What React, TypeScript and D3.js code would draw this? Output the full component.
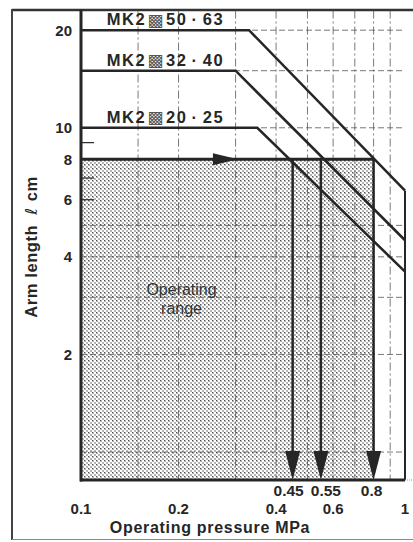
import React from "react";
import * as d3 from "d3";

// ---- data ----
const seriesModel = ["MK2", "MK2", "MK2"];
const seriesBoreA = ["50", "32", "20"];
const seriesBoreB = ["63", "40", "25"];
const seriesPressure = [
  [0.1, 0.33, 1.0],
  [0.1, 0.3, 1.0],
  [0.1, 0.35, 1.0],
];
const seriesArm = [
  [20, 20, 6.4],
  [15, 15, 4.5],
  [10, 10, 3.6],
];
const rangeArm = 8; // operating range upper arm length (cm)
const rangePressureMax = 0.8;
const arrowPressures = [0.45, 0.55, 0.8];
const arrowLabels = ["0.45", "0.55", "0.8"];
const arrowLabelShift = [-4, 5, -2];
const horizArrowTip = 0.305;
const xTicks = [0.1, 0.2, 0.4, 0.6, 1];
const xTickLabels = ["0.1", "0.2", "0.4", "0.6", "1"];
const yTicks = [20, 10, 8, 6, 4, 2];
const yTickLabels = ["20", "10", "8", "6", "4", "2"];
const yMinorTicks = [9, 7, 6];
const xGrid = [0.15, 0.2, 0.3, 0.4, 0.5, 0.6, 0.7, 0.8, 0.9];
const yGrid = [1, 2, 3, 4, 5, 10, 15, 20];
const xDomain = [0.1, 1];
const yDomain = [0.82, 23];

const W = 413;
const H = 542;
const FONT = "'Liberation Sans', Arial, Helvetica, sans-serif";

export default function App() {
  const x = d3.scaleLog().domain(xDomain).range([81, 405]);
  const y = d3.scaleLog().domain(yDomain).range([480, 10.5]);
  const x0 = x(xDomain[0]);
  const x1 = x(xDomain[1]);
  const yTop = y(yDomain[1]);
  const yBot = y(yDomain[0]);
  const line = d3
    .line<[number, number]>()
    .x((d) => x(d[0]))
    .y((d) => y(d[1]));

  const ink = "#262626";

  return (
    <svg
      width={W}
      height={H}
      style={{ position: "absolute", left: 0, top: 0, background: "#fff" }}
      fontFamily={FONT}
    >
      <defs>
        <pattern id="hatch" patternUnits="userSpaceOnUse" width={4} height={4}>
          <rect x={0} y={0} width={4} height={4} fill="#ffffff" />
          <rect x={0} y={0} width={2} height={2} fill="#b4b4b4" />
          <rect x={2} y={2} width={2} height={2} fill="#b4b4b4" />
          <rect x={0} y={0} width={1} height={1} fill="#505050" />
        </pattern>
      </defs>

      {/* outer frame */}
      <line x1={12} y1={10} x2={W} y2={10} stroke="#333" strokeWidth={2.5} />
      <line x1={12} y1={9} x2={12} y2={540} stroke="#444" strokeWidth={2} />
      <line x1={12} y1={539.5} x2={W} y2={539.5} stroke="#888" strokeWidth={1.2} />

      {/* operating range */}
      <rect
        x={x0}
        y={y(rangeArm)}
        width={x(rangePressureMax) - x0}
        height={yBot - y(rangeArm)}
        fill="url(#hatch)"
      />

      {/* gridlines */}
      {xGrid.map((g) => (
        <line
          key={"xg" + g}
          x1={x(g)}
          x2={x(g)}
          y1={yTop}
          y2={yBot}
          stroke="#555"
          strokeWidth={0.8}
          strokeDasharray="8,3,2,3"
        />
      ))}
      {yGrid.map((g) => (
        <line
          key={"yg" + g}
          x1={x0}
          x2={x1}
          y1={y(g)}
          y2={y(g)}
          stroke="#555"
          strokeWidth={0.8}
          strokeDasharray="6,3"
        />
      ))}

      {/* "Operating range" label */}
      <text textAnchor="middle" fontSize={16} fill="#333">
        <tspan x={x(0.2) + 3} y={y(3.05)}>
          Operating
        </tspan>
        <tspan x={x(0.2) + 3} y={y(3.05) + 19}>
          range
        </tspan>
      </text>

      {/* series lines */}
      {seriesModel.map((m, i) => {
        const pts = seriesPressure[i].map(
          (p, j) => [p, seriesArm[i][j]] as [number, number]
        );
        return (
          <g key={"s" + i}>
            <path d={line(pts) || ""} fill="none" stroke={ink} strokeWidth={2.5} />
            <text
              x={x(0.12)}
              y={y(seriesArm[i][0]) - 5}
              fontSize={16.5}
              fontWeight="bold"
              fill={ink}
              letterSpacing={1.6}
            >
              {m}
              <tspan
                dx={1}
                dy={0.5}
                fontFamily="'DejaVu Sans'"
                fontSize={17}
                fontWeight="normal"
                fill="#555"
              >
                ▩
              </tspan>
              <tspan dx={1} dy={-0.5}>{seriesBoreA[i]}</tspan>
              <tspan dx={4}>·</tspan>
              <tspan dx={4}>{seriesBoreB[i]}</tspan>
            </text>
          </g>
        );
      })}

      {/* range top line with arrow */}
      <line
        x1={x0}
        x2={x(rangePressureMax)}
        y1={y(rangeArm)}
        y2={y(rangeArm)}
        stroke={ink}
        strokeWidth={3}
      />
      <path
        d={`M${x(horizArrowTip)},${y(rangeArm)} L${x(horizArrowTip) - 25},${
          y(rangeArm) - 6
        } L${x(horizArrowTip) - 25},${y(rangeArm) + 6} Z`}
        fill={ink}
      />

      {/* vertical arrows */}
      {arrowPressures.map((p) => (
        <g key={"arr" + p}>
          <line
            x1={x(p)}
            x2={x(p)}
            y1={y(rangeArm)}
            y2={yBot - 20}
            stroke={ink}
            strokeWidth={2.5}
          />
          <path
            d={`M${x(p)},${yBot} L${x(p) - 7.5},${yBot - 29} L${x(p) + 7.5},${
              yBot - 29
            } Z`}
            fill={ink}
          />
        </g>
      ))}

      {/* right boundary */}
      <line
        x1={x1}
        x2={x1}
        y1={y(seriesArm[0][2])}
        y2={yBot}
        stroke={ink}
        strokeWidth={2}
      />

      {/* axes */}
      <line x1={x0} x2={x0} y1={yTop - 1} y2={yBot + 1.5} stroke={ink} strokeWidth={3} />
      <line x1={x0 - 1} x2={x1} y1={yBot} y2={yBot} stroke={ink} strokeWidth={3} />
      <line
        x1={x1}
        x2={W}
        y1={yBot}
        y2={yBot}
        stroke="#999"
        strokeWidth={1}
        strokeDasharray="1,1"
      />

      {yMinorTicks.map((t) => (
        <line
          key={"mt" + t}
          x1={x0}
          x2={x0 + 13}
          y1={y(t)}
          y2={y(t)}
          stroke={ink}
          strokeWidth={1.2}
        />
      ))}

      {yTicks.map((t, i) => (
        <text
          key={"yt" + t}
          x={72}
          y={y(t)}
          dy="0.36em"
          textAnchor="end"
          fontSize={15}
          fontWeight="bold"
          fill={ink}
        >
          {yTickLabels[i]}
        </text>
      ))}

      {xTicks.map((t, i) => (
        <text
          key={"xt" + t}
          x={x(t)}
          y={514}
          textAnchor="middle"
          fontSize={15}
          fontWeight="bold"
          fill={ink}
        >
          {xTickLabels[i]}
        </text>
      ))}

      {arrowPressures.map((p, i) => (
        <text
          key={"al" + p}
          x={x(p) + arrowLabelShift[i]}
          y={496}
          textAnchor="middle"
          fontSize={15.5}
          fontWeight="bold"
          fill={ink}
        >
          {arrowLabels[i]}
        </text>
      ))}

      {/* axis titles */}
      <text
        x={210}
        y={533}
        textAnchor="middle"
        fontSize={16}
        fontWeight="bold"
        fill={ink}
        letterSpacing={0.7}
      >
        Operating pressure MPa
      </text>
      <text
        transform="translate(37,247) rotate(-90)"
        textAnchor="middle"
        fontSize={16.5}
        fontWeight="bold"
        fill={ink}
        letterSpacing={0.6}
      >
        Arm length
        <tspan dx={10} fontStyle="italic" fontWeight="normal" fontFamily="'DejaVu Sans'">
          ℓ
        </tspan>
        <tspan dx={6}>cm</tspan>
      </text>
    </svg>
  );
}
